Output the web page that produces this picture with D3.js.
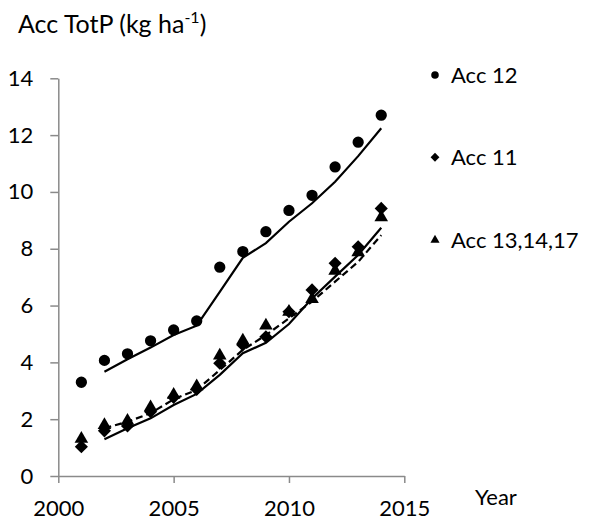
<!DOCTYPE html>
<html>
<head>
<meta charset="utf-8">
<script src="https://cdn.jsdelivr.net/npm/d3@7"></script>
<style>
  body { margin: 0; background: #fff; }
  svg { font-family: Lato, "Open Sans", sans-serif; }
</style>
</head>
<body>
<div id="chart"></div>
<script>
// observed values
var years = [2001, 2002, 2003, 2004, 2005, 2006, 2007, 2008, 2009, 2010, 2011, 2012, 2013, 2014];
var acc12 = [3.3, 4.07, 4.3, 4.76, 5.14, 5.46, 7.35, 7.9, 8.6, 9.35, 9.88, 10.88, 11.75, 12.7];
var acc11 = [1.03, 1.59, 1.76, 2.26, 2.77, 3.05, 3.97, 4.61, 4.9, 5.78, 6.55, 7.49, 8.07, 9.42];
var acc131417 = [1.27, 1.76, 1.91, 2.38, 2.82, 3.12, 4.2, 4.73, 5.26, 5.74, 6.19, 7.19, 7.84, 9.07];

// simulated values (lines)
var modelYears = [2002, 2003, 2004, 2005, 2006, 2007, 2008, 2009, 2010, 2011, 2012, 2013, 2014];
var acc12Model = [3.67, 4.11, 4.52, 4.96, 5.29, 6.48, 7.68, 8.2, 8.95, 9.6, 10.36, 11.26, 12.24];
var acc11Model = [1.29, 1.68, 2.03, 2.5, 2.89, 3.56, 4.32, 4.69, 5.35, 6.25, 7.02, 7.78, 8.74];
var acc131417Model = [1.68, 1.91, 2.21, 2.7, 3.03, 3.73, 4.44, 4.96, 5.55, 6.14, 6.84, 7.54, 8.48];

var xTicks = [2000, 2005, 2010, 2015];
var yTicks = [0, 2, 4, 6, 8, 10, 12, 14];
var legendLabels = ["Acc 12", "Acc 11", "Acc 13,14,17"];

var width = 590, height = 522;
var fs = 22;

var svg = d3.select('#chart').append('svg')
  .attr('width', width)
  .attr('height', height);

var x = d3.scaleLinear().domain([2000, 2015]).range([58.3, 404.3]);
var y = d3.scaleLinear().domain([0, 14]).range([476, 78.3]);

var yAxis = svg.append('g')
  .attr('transform', 'translate(' + x(2000) + ',0)')
  .call(d3.axisLeft(y).tickValues(yTicks).tickSize(8).tickPadding(17).tickSizeOuter(0));
var xAxis = svg.append('g')
  .attr('transform', 'translate(0,' + y(0) + ')')
  .call(d3.axisBottom(x).tickValues(xTicks).tickFormat(d3.format('d')).tickSize(7).tickPadding(17).tickSizeOuter(0));

[yAxis, xAxis].forEach(function(a) {
  a.select('.domain').attr('stroke', '#8a8a8a').attr('stroke-width', 1.5);
  a.selectAll('.tick line').attr('stroke', '#8a8a8a').attr('stroke-width', 1.5);
  a.selectAll('.tick text').attr('fill', '#000').style('font-size', fs + 'px').style('font-family', 'Lato, sans-serif');
});

// lines
var line = d3.line()
  .x(function(d) { return x(d[0]); })
  .y(function(d) { return y(d[1]); });

function pairs(xs, ys) { return xs.map(function(v, i) { return [v, ys[i]]; }); }

svg.append('path').datum(pairs(modelYears, acc12Model))
  .attr('d', line).attr('fill', 'none').attr('stroke', '#000').attr('stroke-width', 2.2);
svg.append('path').datum(pairs(modelYears, acc11Model))
  .attr('d', line).attr('fill', 'none').attr('stroke', '#000').attr('stroke-width', 2.2);
svg.append('path').datum(pairs(modelYears, acc131417Model))
  .attr('d', line).attr('fill', 'none').attr('stroke', '#000').attr('stroke-width', 2.2)
  .attr('stroke-dasharray', '7,4');

// markers
var circleSym = d3.symbol().type(d3.symbolCircle);
var diamondSym = d3.symbol().type(d3.symbolDiamond2);
var triSym = d3.symbol().type(d3.symbolTriangle);

svg.append('g').selectAll('path').data(pairs(years, acc131417)).enter().append('path')
  .attr('d', triSym.size(80))
  .attr('transform', function(d) { return 'translate(' + x(d[0]) + ',' + (y(d[1]) - 1) + ')'; })
  .attr('fill', '#000');
svg.append('g').selectAll('path').data(pairs(years, acc11)).enter().append('path')
  .attr('d', diamondSym.size(110))
  .attr('transform', function(d) { return 'translate(' + x(d[0]) + ',' + y(d[1]) + ')'; })
  .attr('fill', '#000');
svg.append('g').selectAll('path').data(pairs(years, acc12)).enter().append('path')
  .attr('d', circleSym.size(100))
  .attr('transform', function(d) { return 'translate(' + x(d[0]) + ',' + y(d[1]) + ')'; })
  .attr('fill', '#000');

// title
var title = svg.append('text')
  .attr('x', 18).attr('y', 33)
  .style('font-size', '25px').attr('fill', '#000');
title.append('tspan').text('Acc TotP (kg ha');
title.append('tspan').text('-1').style('font-size', '16px').attr('dy', -10);
title.append('tspan').text(')').attr('dy', 10);

// x axis label
svg.append('text').attr('x', 475).attr('y', 505)
  .style('font-size', fs + 'px').attr('fill', '#000').text('Year');

// legend
var legendY = [75, 157.3, 240];
var legendSyms = [circleSym.size(45)(), diamondSym.size(50)(), triSym.size(36)()];
var leg = svg.append('g').selectAll('g').data(legendLabels).enter().append('g')
  .attr('transform', function(d, i) { return 'translate(435,' + legendY[i] + ')'; });
leg.append('path').attr('d', function(d, i) { return legendSyms[i]; }).attr('fill', '#000');
leg.append('text').attr('x', 16).attr('y', 7.8)
  .style('font-size', fs + 'px').attr('fill', '#000')
  .text(function(d) { return d; });
</script>
</body>
</html>
